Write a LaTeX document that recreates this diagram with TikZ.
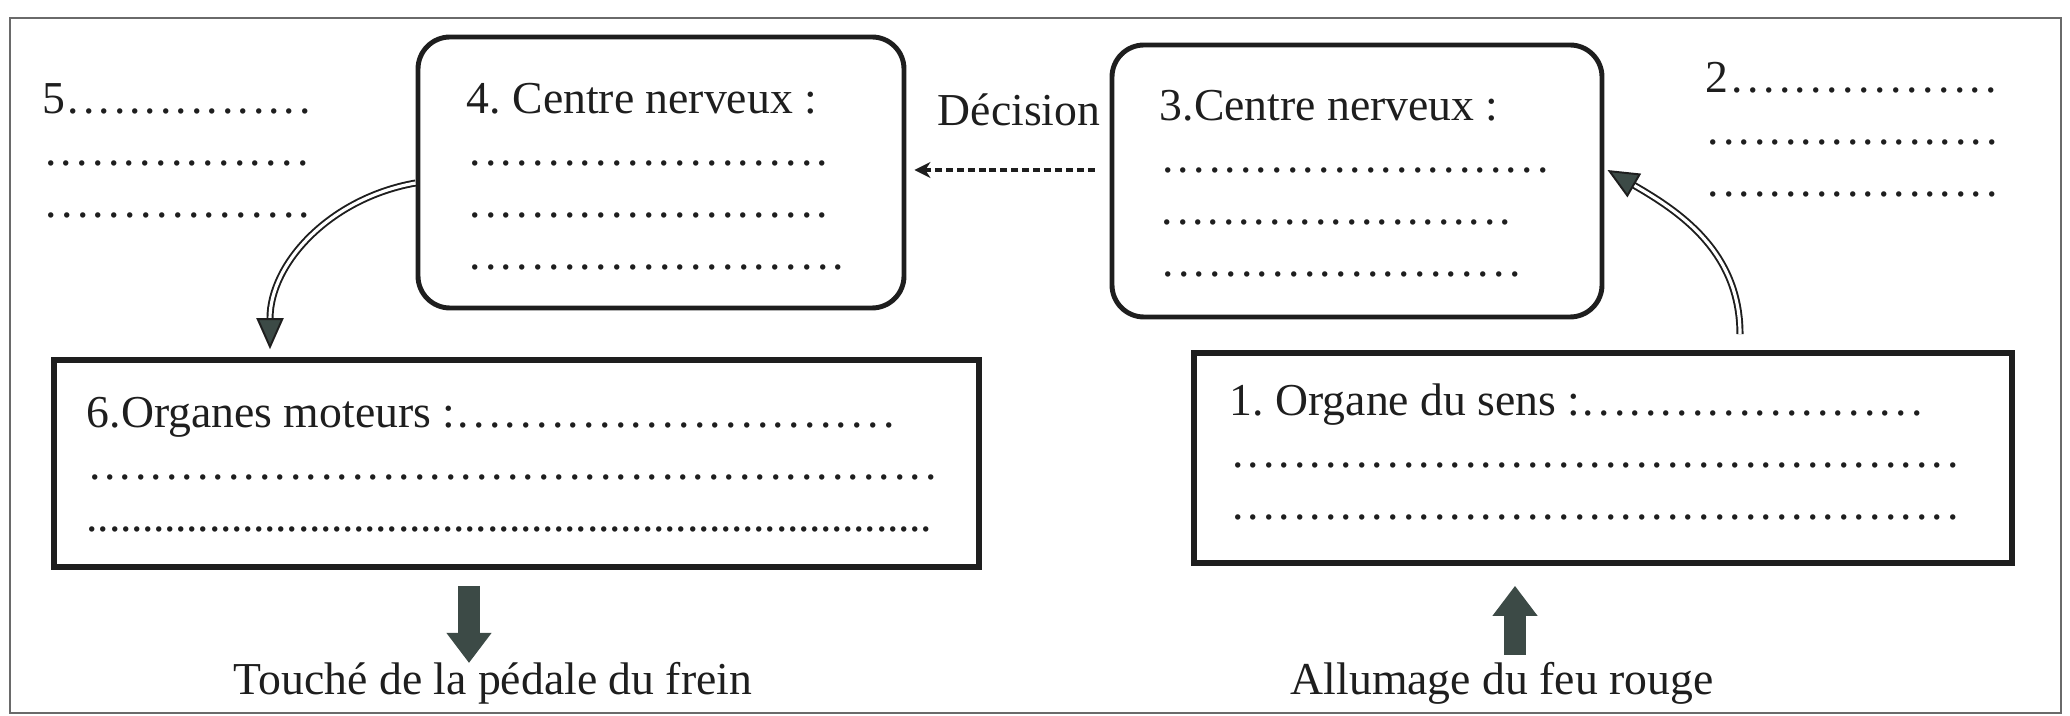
\documentclass[tikz,border=0pt]{standalone}
\usepackage{fontspec}
\setmainfont{Liberation Serif}
\usetikzlibrary{arrows.meta,positioning}
\definecolor{ink}{HTML}{1E1E1E}
\definecolor{cadre}{HTML}{6A6A6A}
\definecolor{ardoise}{HTML}{3C4A46}
\frenchspacing
% ligne de pointilles de largeur fixe (mm), texte en tete
\newcommand{\pointilles}[3][1.53]{\hbox to #2mm{#3\xleaders\hbox to #1mm{\hss.\hss}\hfill}}
\tikzset{
  every picture/.style={line width=0.5pt,draw=ink,font=\fontsize{13}{14.8}\selectfont},
  ronde/.style={draw=ink,line width=1.4pt,rounded corners=3.2mm,inner sep=0pt},
  carre/.style={draw=ink,line width=1.6pt,inner sep=0pt},
  txt/.style={anchor=base west,inner sep=0pt,align=left,text=ink},
  dbl/.style={draw=ink,line width=0.55pt,double=white,double distance=0.9pt,
    -{Triangle[length=3.1mm,width=2.7mm,fill=ardoise]}},
  tirets/.style={draw=ink,line width=1pt,dash pattern=on 2pt off 1.1pt,
    -{Stealth[length=1.6mm,width=1.6mm]}},
  bloc/.style={draw=ardoise,line width=2.2mm,-{Triangle[length=3mm,width=4.3mm]}},
}
\begin{document}
\begin{tikzpicture}[x=1mm,y=1mm]
  \useasboundingbox (0,0) rectangle (207,71.6);
  \draw[cadre,line width=0.6pt] (1.0,0.3) rectangle (206.1,69.8);
  % boites
  \node[ronde,minimum width=48.6mm,minimum height=27.1mm] (centre4) at (66.1,54.35) {};
  \node[ronde,minimum width=49mm,minimum height=27.2mm] (centre3) at (135.7,53.5) {};
  \node[carre,minimum width=92.5mm,minimum height=20.7mm] (moteurs) at (51.65,25.25) {};
  \node[carre,minimum width=81.8mm,minimum height=21mm] (sens) at (160.3,25.8) {};
  % textes (base = derniere ligne)
  \node[txt] (t5) at (4.2,49.8) {\pointilles{27}{5}\\\pointilles{26.8}{}\\\pointilles{27}{}};
  \node[txt] (t4) at (46.6,44.6) {4. Centre nerveux :\\\pointilles{36.4}{}\\\pointilles{36.4}{}\\\pointilles{38}{}};
  \node[txt] (decision) at (93.7,59.0) {Décision};
  \node[txt] (t3) at (115.9,43.9) {3.Centre nerveux :\\\pointilles{39.1}{}\\\pointilles{35.3}{}\\\pointilles{36.3}{}};
  \node[txt] (t2) at (170.5,51.9) {\pointilles{29.4}{2}\\\pointilles{29.4}{}\\\pointilles{29.4}{}};
  \node[txt] (t6) at (8.6,18.4) {\pointilles{81}{6.Organes moteurs :}\\\pointilles{85.2}{}\\\pointilles[1.1]{84.5}{}};
  \node[txt] (t1) at (122.9,19.6) {\pointilles{69.5}{1. Organe du sens :}\\\pointilles{73.1}{}\\\pointilles{73.1}{}};
  \node[text=ink,anchor=base,inner sep=0pt] (frein) at (49.3,2.2) {Touché de la pédale du frein};
  \node[text=ink,anchor=base,inner sep=0pt] (feu) at (150.2,2.2) {Allumage du feu rouge};
  % fleches
  \draw[tirets,shorten <=1.5mm,shorten >=0.8mm] ([yshift=1.1mm]centre3.west) -- ([yshift=1.1mm]centre3.west -| centre4.east);
  \draw[dbl] ([yshift=-1.05mm]centre4.west) to[out=190,in=90] ([xshift=-24.65mm,yshift=0.8mm]moteurs.north);
  \draw[dbl] ([xshift=13.7mm,yshift=1.6mm]sens.north) to[out=90,in=-30] ([yshift=1.1mm,xshift=0.3mm]centre3.east);
  \coordinate (x6) at (46.9,0);
  \coordinate (x1) at (151.5,0);
  \draw[bloc] ([yshift=-1.6mm]moteurs.south -| x6) -- ([yshift=3.1mm]frein.base -| x6);
  \draw[bloc] ([yshift=3.9mm]feu.base -| x1) -- ([yshift=-2mm]sens.south -| x1);
\end{tikzpicture}
\end{document}
